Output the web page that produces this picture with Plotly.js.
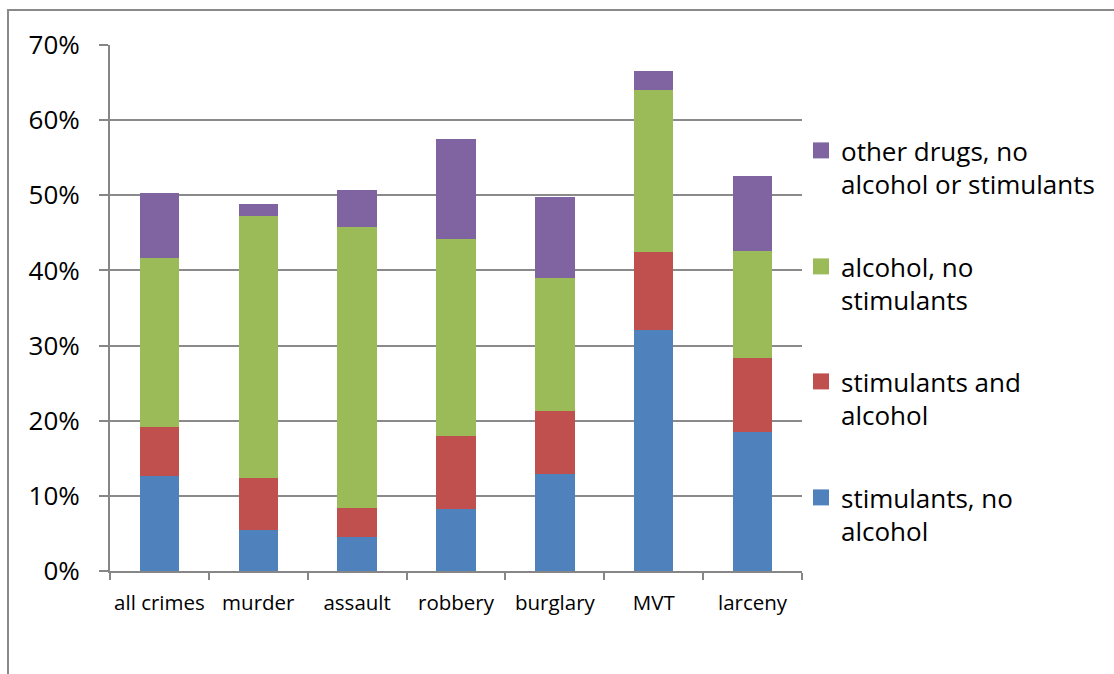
<!DOCTYPE html>
<html>
<head>
<meta charset="utf-8">
<script src="https://cdn.plot.ly/plotly-3.0.1.min.js"></script>
<style>html,body{margin:0;padding:0;background:#fff;}#chart{width:1114px;height:674px;}</style>
</head>
<body>
<div id="chart"></div>
<script>
// Categories and series (percent of arrestees)
const categories = ['all crimes', 'murder', 'assault', 'robbery', 'burglary', 'MVT', 'larceny'];
const stimulantsNoAlcohol = [12.7, 5.5, 4.5, 8.3, 12.95, 32.1, 18.5];
const stimulantsAndAlcohol = [6.4, 6.9, 3.9, 9.7, 8.3, 10.4, 9.9];
const alcoholNoStimulants = [22.5, 34.8, 37.4, 26.2, 17.75, 21.5, 14.2];
const otherDrugsNoAlcOrStim = [8.7, 1.6, 4.9, 13.25, 10.8, 2.5, 10.0];
const seriesNames = ['stimulants, no<br>alcohol', 'stimulants and<br>alcohol', 'alcohol, no<br>stimulants', 'other drugs, no<br>alcohol or stimulants'];
const seriesColors = ['#4F81BD', '#C0504D', '#9BBB59', '#8064A2'];
const yTickVals = [0, 10, 20, 30, 40, 50, 60, 70];

const FONT = '"Open Sans", "Noto Sans", sans-serif';
const W = 1114, H = 674;
const plotL = 110, plotR = 802, plotT = 45, plotB = 571;
const py = p => (plotB - p) / (plotB - plotT);
const px = p => (p - plotL) / (plotR - plotL);

const seriesData = [stimulantsNoAlcohol, stimulantsAndAlcohol, alcoholNoStimulants, otherDrugsNoAlcOrStim];
const legendIds = ['legend4', 'legend3', 'legend2', 'legend'];
const legendTops = [474, 358, 243, 127];

const barTraces = seriesData.map((vals, i) => ({
  type: 'bar',
  x: categories,
  y: vals,
  name: seriesNames[i],
  showlegend: false,
  marker: {color: seriesColors[i], line: {width: 0}},
  hoverinfo: 'x+y+name'
}));
// legend keys (square swatches, no data drawn)
const legendKeys = seriesData.map((vals, i) => ({
  type: 'scatter', mode: 'markers',
  x: [null], y: [null],
  name: seriesNames[i],
  legend: legendIds[i],
  showlegend: true,
  marker: {symbol: 'square', size: 16, color: seriesColors[i]},
  hoverinfo: 'skip'
}));

const layout = {
  width: W, height: H,
  barmode: 'stack',
  bargap: 0.6,
  showlegend: true,
  paper_bgcolor: '#ffffff',
  plot_bgcolor: '#ffffff',
  margin: {l: plotL, r: W - plotR, t: plotT, b: H - plotB, pad: 0},
  font: {family: FONT, color: '#000000'},
  xaxis: {
    type: 'category',
    categoryorder: 'array', categoryarray: categories,
    showline: true, linecolor: '#868686', linewidth: 2,
    ticks: 'outside', tickson: 'boundaries', ticklen: 7, tickwidth: 2, tickcolor: '#868686',
    tickfont: {family: FONT, size: 20.5, color: '#000'},
    tickangle: 0,
    ticklabelstandoff: 12,
    showgrid: false, zeroline: false
  },
  yaxis: {
    range: [0, 70],
    tickvals: yTickVals,
    ticktext: yTickVals.map(v => v + '%'),
    showline: true, linecolor: '#868686', linewidth: 2,
    ticks: 'outside', ticklen: 9, tickwidth: 2, tickcolor: '#868686',
    tickfont: {family: FONT, size: 26, color: '#000'},
    ticklabelstandoff: 14,
    showgrid: true, gridcolor: '#8a8a8a', gridwidth: 2,
    zeroline: false
  },
  shapes: [{
    type: 'rect', xref: 'paper', yref: 'paper',
    x0: px(8), x1: px(1130), y0: py(690), y1: py(10),
    line: {color: '#8a8a8a', width: 2}, fillcolor: 'rgba(0,0,0,0)', layer: 'below'
  }]
};
legendIds.forEach((id, i) => {
  layout[id] = {
    x: px(801), xanchor: 'left',
    y: py(legendTops[i]), yanchor: 'top',
    font: {family: FONT, size: 26, color: '#000'},
    bgcolor: 'rgba(0,0,0,0)', borderwidth: 0,
    valign: 'top', itemwidth: 30, visible: true
  };
});

Plotly.newPlot('chart', barTraces.concat(legendKeys), layout, {staticPlot: true, displayModeBar: false});
</script>
</body>
</html>
